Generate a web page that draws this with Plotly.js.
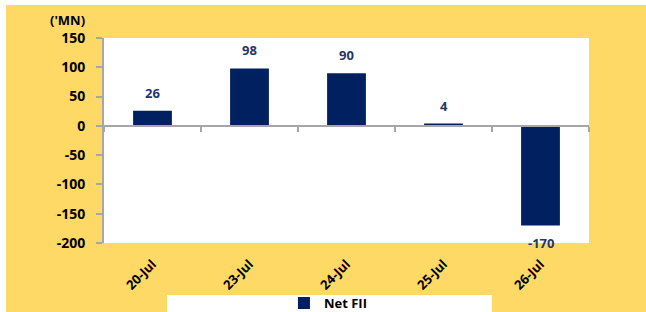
<!DOCTYPE html>
<html><head><meta charset="utf-8">
<script src="https://cdn.plot.ly/plotly-3.0.1.min.js"></script>
<style>
html,body{margin:0;padding:0;background:#fff;width:646px;height:312px;overflow:hidden;}
#chart{position:absolute;left:6px;top:5px;width:640px;height:307px;}
</style></head><body>
<div id="chart"></div>
<script>
const categories = ['20-Jul','23-Jul','24-Jul','25-Jul','26-Jul'];
const netFII = [26, 98, 90, 4, -170];
const seriesName = 'Net FII';
const yTicks = [-200,-150,-100,-50,0,50,100,150];
const yTickLabels = ['-200','-150','-100','-50','0','50','100','150'];

const navy = '#002060';
const axisGrey = '#a6a6a6';
const font = 'Open Sans, Liberation Sans, sans-serif';

const traces = [
  {type:'bar', x:categories, y:netFII, name:seriesName, marker:{color:navy}, showlegend:true,
   hoverinfo:'skip'},
  {type:'scatter', mode:'markers', x:categories, y:categories.map(()=>null), xaxis:'x2', yaxis:'y',
   showlegend:false, hoverinfo:'skip'}
];

const annotations = netFII.map((v,i)=>({
  x:categories[i], y:v, xref:'x', yref:'y', text:String(v), showarrow:false,
  yshift: v>=0 ? 18 : -18,
  font:{family:font, size:13, color:'#1f3864', weight:'bold'}
}));
annotations.push({xref:'paper', yref:'paper', x:-0.035, y:1.035, xanchor:'right', yanchor:'bottom',
  text:"('MN)", showarrow:false, font:{family:font, size:13, color:'#000', weight:'bold'}});

const layout = {
  width:640, height:307,
  margin:{l:98, r:57, t:33, b:69, autoexpand:false},
  paper_bgcolor:'#FFD966', plot_bgcolor:'#ffffff',
  bargap:0.6,
  showlegend:true,
  legend:{x:0.371, y:-0.293, xanchor:'left', yanchor:'middle', bgcolor:'rgba(0,0,0,0)',
    font:{family:font, size:13, color:'#000', weight:'bold'}},
  xaxis:{type:'category', showline:false, ticks:'', showgrid:false, zeroline:false, automargin:false,
    ticklabelstandoff:10,
    tickangle:-45, tickfont:{family:font, size:13, color:'#000', weight:'bold'}, fixedrange:true},
  xaxis2:{type:'category', matches:'x', overlaying:'x', anchor:'free', position:(0-(-200))/350,
    showline:true, linecolor:axisGrey, linewidth:2, ticks:'outside', tickson:'boundaries',
    ticklen:5, tickcolor:axisGrey, tickwidth:2, showticklabels:false, showgrid:false, zeroline:false},
  yaxis:{range:[-200,150], tickvals:yTicks, ticktext:yTickLabels, showline:true, linecolor:axisGrey, linewidth:2,
    ticks:'outside', ticklen:6, tickcolor:axisGrey, tickwidth:2, showgrid:false, zeroline:false, automargin:false,
    ticklabelstandoff:8,
    tickfont:{family:font, size:14, color:'#000', weight:'bold'}, fixedrange:true},
  shapes:[{type:'rect', xref:'paper', yref:'paper', x0:0.13, x1:0.80, y0:-0.2537, y1:-0.40,
    fillcolor:'#ffffff', line:{width:0}, layer:'below'}],
  annotations:annotations
};
Plotly.newPlot('chart', traces, layout, {displayModeBar:false, staticPlot:true});
</script></body></html>
